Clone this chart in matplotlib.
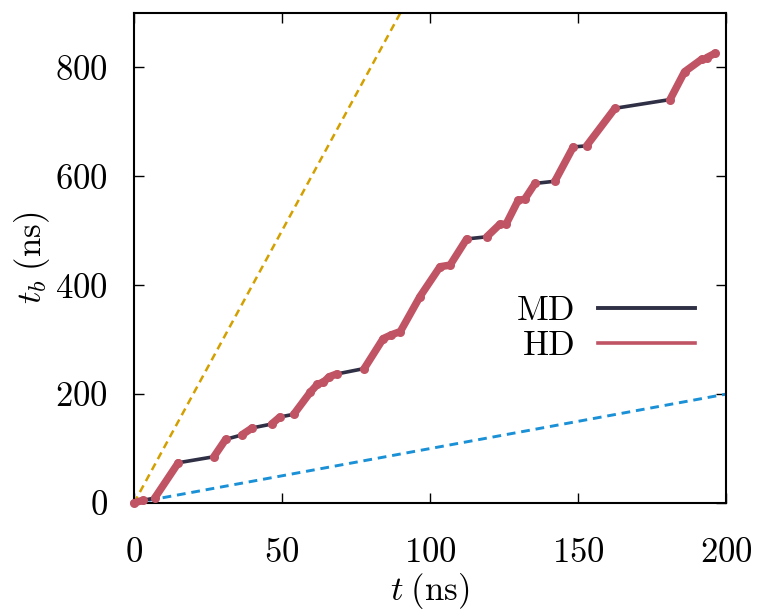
import numpy as np
import matplotlib
matplotlib.use("Agg")
import matplotlib.pyplot as plt
from matplotlib.lines import Line2D

plt.rcParams['font.family'] = ['cmr10', 'DejaVu Serif']
plt.rcParams['mathtext.fontset'] = 'cm'
plt.rcParams['axes.formatter.use_mathtext'] = True

# Trajectory vertices: simulation time t (ns) vs boosted time t_b (ns)
t_md = [0, 3, 7, 15, 27, 31, 36.4, 40, 46.5, 49.3, 54, 59.5, 62, 64, 66, 68.5,
        77.8, 84.2, 87, 90, 96.6, 103.4, 106.8, 112.4, 119.2, 123.6, 125.7,
        129.8, 132, 135.5, 142.2, 148.4, 152.9, 162.5, 181.1, 186, 191.8,
        193.5, 196.3]
tb_md = [0, 5, 9, 74, 85, 117, 125, 138, 145, 158, 163, 203, 218, 222, 232, 237,
         247, 302, 309, 315, 379, 434, 437, 485, 489, 512, 512, 556, 558, 587,
         591, 654, 656, 725, 741, 792, 815, 818, 826]
# Index ranges (inclusive) of the trajectory run with HD
hd_segments = [(0, 1), (2, 3), (4, 5), (6, 7), (8, 9), (10, 15), (16, 23),
               (24, 29), (30, 31), (32, 33), (34, 36), (37, 38)]
# Reference lines t_b = slope * t
ref_slopes = [10, 1]
ref_colors = ['#d4a000', '#1a90d6']
ref_widths = [1.8, 2.1]

x_ticks = [0, 50, 100, 150, 200]
y_ticks = [0, 200, 400, 600, 800]

md_color = '#2f2f45'
hd_color = '#c05464'

fig = plt.figure(figsize=(7.61, 6.13), dpi=100)
ax = fig.add_axes([0.176, 0.1794, 0.778, 0.7994])

t_ref = np.array([0, 200.0])
for s, c, w in zip(ref_slopes, ref_colors, ref_widths):
    ax.plot(t_ref, s * t_ref, color=c, lw=w, dashes=(3, 2), zorder=2)

t_arr = np.array(t_md)
tb_arr = np.array(tb_md)
ax.plot(t_arr, tb_arr, color=md_color, lw=2.6, solid_capstyle='round', zorder=3)
for i0, i1 in hd_segments:
    ax.plot(t_arr[i0:i1 + 1], tb_arr[i0:i1 + 1], color=hd_color, lw=5.4,
            solid_capstyle='round', solid_joinstyle='round', marker='o',
            markersize=6.5, markeredgewidth=0, zorder=4, clip_on=False)

ax.set_xlim(0, 200)
ax.set_ylim(0, 900)
ax.set_xticks(x_ticks)
ax.set_yticks(y_ticks)
ax.tick_params(direction='in', length=7, width=1.0, top=True, right=True,
               labelsize=25)
ax.tick_params(axis='x', pad=25)
ax.tick_params(axis='y', pad=19)
for sp in ax.spines.values():
    sp.set_linewidth(1.5)

ax.set_xlabel(r'$t\;\mathrm{(ns)}$', fontsize=25, labelpad=1)
ax.set_ylabel(r'$t_b\;\mathrm{(ns)}$', fontsize=25, labelpad=2)

handles = [Line2D([0], [0], color=md_color, lw=2.8),
           Line2D([0], [0], color=hd_color, lw=2.6)]
ax.legend(handles, ['MD', 'HD'], loc='center right',
          bbox_to_anchor=(0.948, 0.355), frameon=False, markerfirst=False,
          fontsize=25, handlelength=2.8, handletextpad=0.65, labelspacing=0.1,
          borderpad=0, borderaxespad=0)

fig.savefig('out.png', dpi=100)
